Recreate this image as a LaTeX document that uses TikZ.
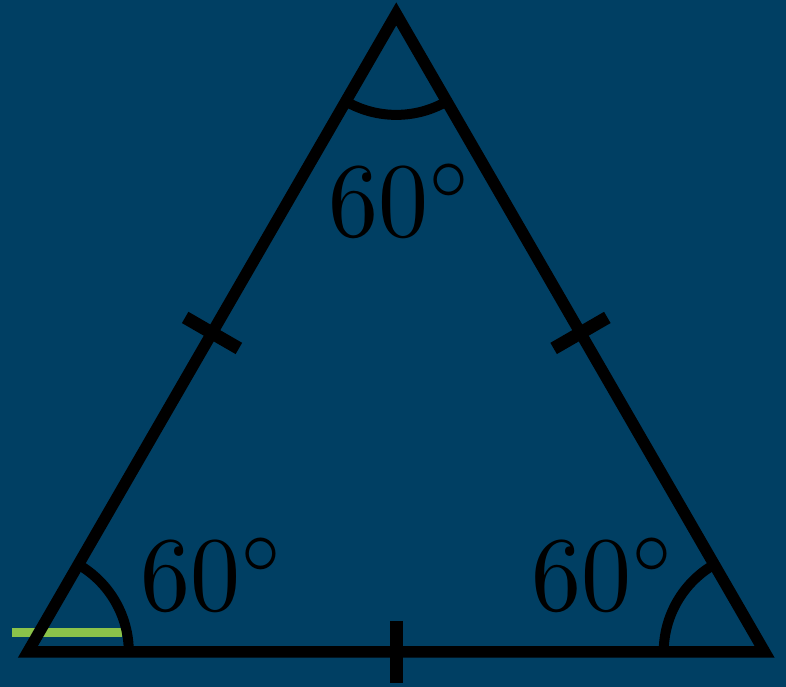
\documentclass[tikz,border=0pt]{standalone}
\usepackage{amsmath,amssymb}
\usepackage{xcolor}
\usepackage{tikz}
\usetikzlibrary{calc}
\definecolor{boardBlue}{HTML}{003F63}
\definecolor{limeGreen}{HTML}{8BC34A}
\newcommand{\bigdeg}[1]{\scalebox{10.0}[10.6]{$#1^\circ$}}

\begin{document}
\begin{tikzpicture}[
    x=1pt, y=1pt,
    side/.style={draw=black, line width=11.5pt, miter limit=10},
    anglearc/.style={draw=black, line width=10pt},
    tickmark/.style={draw=black, line width=13pt},
    deg/.style={inner sep=0pt, anchor=base}
  ]
  \useasboundingbox (0,0) rectangle (786,687);
  \fill[boardBlue] (0,0) rectangle (786,687);

  \coordinate (A) at (27.8,35);
  \coordinate (B) at (764.7,35);
  \coordinate (C) at (396.25,673.1);
  \coordinate (g1) at (12,54.5);
  \coordinate (g2) at (122,54.5);

  \draw[limeGreen, line width=9pt] (g1)--(g2);

  \draw[side] (A)--(B)--(C)--cycle;

  % angle arcs
  \draw[anglearc] ($(A)+(101,0)$) arc[start angle=0, end angle=60, radius=101];
  \draw[anglearc] ($(B)+(-101,0)$) arc[start angle=180, end angle=120, radius=101];
  \draw[anglearc] ($(C)+(240:101)$) arc[start angle=240, end angle=300, radius=101];

  % equal sides
  \draw[tickmark] ($(A)!0.5!(C)!31pt!90:(C)$)--($(A)!0.5!(C)!31pt!-90:(C)$);
  \draw[tickmark] ($(C)!0.5!(B)!31pt!90:(B)$)--($(C)!0.5!(B)!31pt!-90:(B)$);
  \draw[tickmark] ($(A)!0.5!(B)!31pt!90:(B)$)--($(A)!0.5!(B)!31pt!-90:(B)$);

  \node[deg] (degC) at (401,450) {\bigdeg{60}};
  \node[deg] (degA) at (213.5,76) {\bigdeg{60}};
  \node[deg] (degB) at (604.5,76) {\bigdeg{60}};
\end{tikzpicture}
\end{document}
